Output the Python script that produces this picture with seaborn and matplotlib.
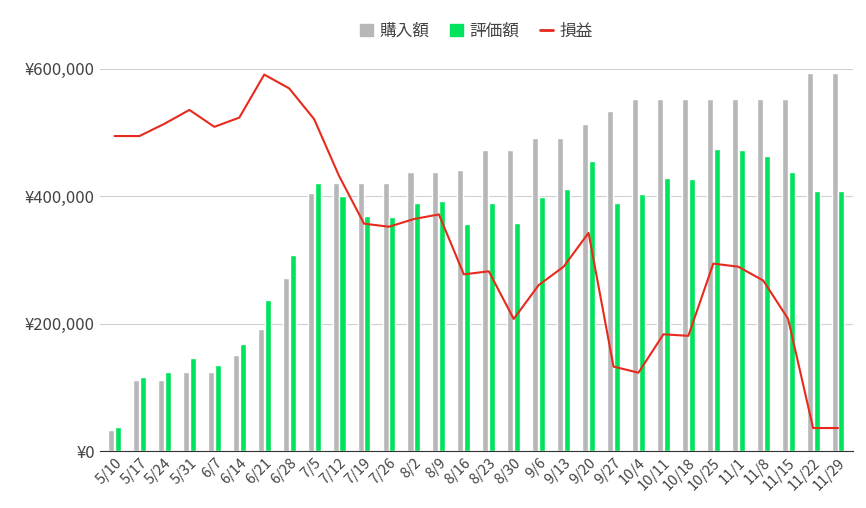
import numpy as np
import pandas as pd
import matplotlib
matplotlib.use("Agg")
import matplotlib.pyplot as plt
import seaborn as sns

sns.set_style("white")
plt.rcParams["font.family"] = "Noto Sans CJK JP"

dates = ["5/10", "5/17", "5/24", "5/31", "6/7", "6/14", "6/21", "6/28", "7/5", "7/12",
         "7/19", "7/26", "8/2", "8/9", "8/16", "8/23", "8/30", "9/6", "9/13", "9/20",
         "9/27", "10/4", "10/11", "10/18", "10/25", "11/1", "11/8", "11/15", "11/22", "11/29"]
purchase = [33000, 111000, 111000, 124000, 124000, 151000, 192000, 272000, 405000, 421000,
            421000, 421000, 438000, 438000, 441000, 472000, 472000, 491000, 491000, 513000,
            534000, 552000, 552000, 552000, 552000, 552000, 552000, 552000, 593000, 593000]
evaluation = [38000, 116000, 124000, 146000, 135000, 168000, 237000, 308000, 421000, 400000,
              369000, 367000, 389000, 392000, 356000, 389000, 358000, 399000, 411000, 455000,
              389000, 403000, 428000, 427000, 474000, 472000, 463000, 438000, 408000, 408000]
profit = [e - p for e, p in zip(evaluation, purchase)]

df = pd.DataFrame({"date": dates * 2,
                   "value": purchase + evaluation,
                   "kind": ["購入額"] * len(dates) + ["評価額"] * len(dates)})

fig = plt.figure(figsize=(8.66, 5.08), dpi=100)
ax = fig.add_axes([0.115, 0.112, 0.87, 0.753])
sns.barplot(data=df, x="date", y="value", hue="kind", ax=ax,
            palette={"購入額": "#b7b7b7", "評価額": "#00e35c"},
            width=0.55, gap=0.12, saturation=1)
ax.set_ylim(0, 600000)
ax.set_yticks([0, 200000, 400000, 600000])
ax.set_yticklabels([f"¥{v:,}" for v in [0, 200000, 400000, 600000]], fontsize=12, color="#444")
ax.grid(axis="y", color="#d0d0d0", lw=0.8)
ax.set_axisbelow(True)
ax.set_xlabel("")
ax.set_ylabel("")
ax.tick_params(axis="x", labelrotation=45, labelsize=10.5, colors="#444", length=0)
ax.tick_params(axis="y", length=0)
for lbl in ax.get_xticklabels():
    lbl.set_ha("right")
    lbl.set_rotation_mode("anchor")
for s in ["top", "right", "left"]:
    ax.spines[s].set_visible(False)
ax.spines["bottom"].set_color("#333")
ax.set_xlim(-0.6, len(dates) - 0.4)
ax.get_legend().remove()

ax2 = ax.twinx()
sns.lineplot(x=np.arange(len(dates)), y=profit, ax=ax2, color="#e8291c", lw=1.5)
ax2.set_ylim(-200000, 48900)
ax2.set_yticks([])
for s in ax2.spines.values():
    s.set_visible(False)

from matplotlib.patches import Patch
from matplotlib.lines import Line2D
handles = [Patch(color="#b7b7b7"), Patch(color="#00e35c"), Line2D([], [], color="#e8291c", lw=2)]
fig.legend(handles, ["購入額", "評価額", "損益"], loc="upper center", bbox_to_anchor=(0.55, 0.985),
           ncol=3, frameon=False, fontsize=12, handlelength=0.8, handletextpad=0.4,
           columnspacing=1.2, labelcolor="#444")

fig.savefig("out.png", dpi=100)
